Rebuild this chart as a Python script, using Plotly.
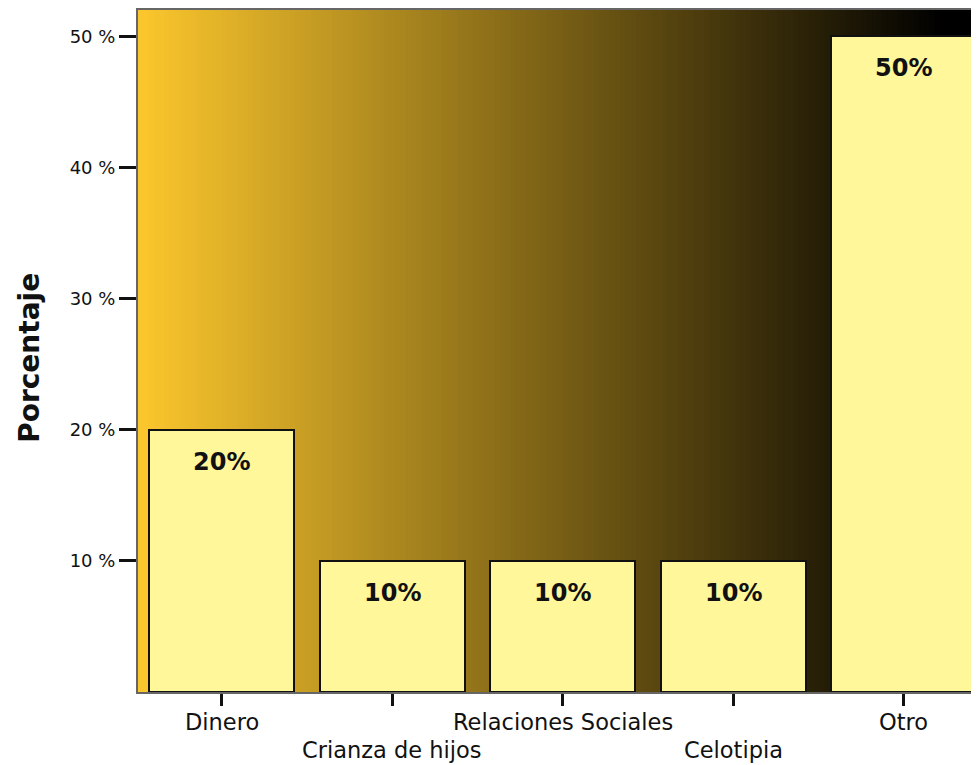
import plotly.graph_objects as go

categories = ["Dinero", "Crianza de hijos", "Relaciones Sociales", "Celotipia", "Otro"]
values = [20, 10, 10, 10, 50]
bar_labels = ["20%", "10%", "10%", "10%", "50%"]
y_ticks = [10, 20, 30, 40, 50]
y_tick_labels = ["10 %", "20 %", "30 %", "40 %", "50 %"]
label_row = [0, 1, 0, 1, 0]  # staggered category labels
y_title = "Porcentaje"

FONT = "DejaVu Sans, Verdana, sans-serif"

fig = go.Figure()
fig.add_trace(go.Bar(
    x=categories, y=values, width=0.85,
    marker=dict(color="#FFF799", line=dict(color="#111111", width=2)),
    hoverinfo="skip",
))

# gradient background (orange -> black)
N = 160
start = (252, 199, 45)
shapes = []
for i in range(N):
    f = (i + 0.5) / N
    k = max(0.0, 1 - f / 0.96)
    c = "rgb(%d,%d,%d)" % tuple(int(round(s * k)) for s in start)
    shapes.append(dict(type="rect", xref="paper", yref="paper",
                       x0=i / N, x1=(i + 1) / N + 0.002, y0=0, y1=1,
                       fillcolor=c, line=dict(width=0), layer="below"))

annotations = []
for cat, v, t in zip(categories, values, bar_labels):
    annotations.append(dict(x=cat, y=v, text="<b>%s</b>" % t, showarrow=False,
                            yanchor="middle", yshift=-32,
                            font=dict(family=FONT, size=24, color="#111111")))
for cat, r in zip(categories, label_row):
    annotations.append(dict(x=cat, xref="x", y=0, yref="paper", text=cat, showarrow=False,
                            yanchor="middle", yshift=-30 - 28 * r,
                            font=dict(family=FONT, size=22.5, color="#111111")))
annotations.append(dict(x=0, xref="paper", y=0.49, yref="paper", text="<b>%s</b>" % y_title,
                        showarrow=False, textangle=-90, xanchor="center", yanchor="middle",
                        xshift=-108, font=dict(family=FONT, size=28, color="#111111")))

fig.update_layout(
    width=971, height=757,
    margin=dict(l=130, r=0, t=2, b=73),
    paper_bgcolor="white", plot_bgcolor="rgba(0,0,0,0)",
    shapes=shapes, annotations=annotations,
    showlegend=False, bargap=0,
    font=dict(family=FONT, color="#111111"),
)
fig.update_xaxes(
    range=[-0.49, 4.43], tickmode="array", tickvals=categories, showticklabels=False,
    ticks="outside", ticklen=12, tickwidth=3, tickcolor="#111111",
    showline=True, linecolor="#666666", linewidth=2, mirror=True,
    showgrid=False, zeroline=False, fixedrange=True,
)
fig.update_yaxes(
    range=[0, 52], tickmode="array", tickvals=y_ticks, ticktext=y_tick_labels,
    ticks="outside", ticklen=17, tickwidth=3, tickcolor="#111111",
    tickfont=dict(family=FONT, size=18, color="#111111"),
    showline=True, linecolor="#666666", linewidth=2, mirror=True,
    showgrid=False, zeroline=False,
)

fig.write_html("out.html")
